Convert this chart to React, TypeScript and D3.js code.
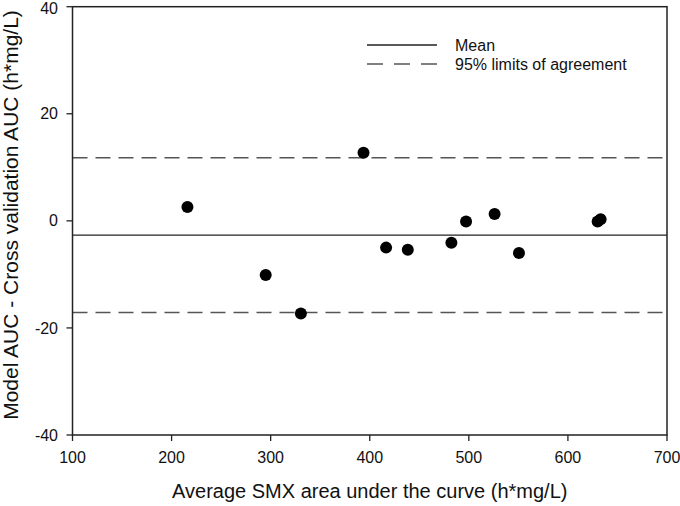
import React from "react";
import * as d3 from "d3";

const xValues = [216, 295, 330.5, 393.7, 416.5, 438.4, 482.4, 497.2, 526, 550.6, 630, 633];
const yValues = [2.6, -10.1, -17.3, 12.7, -5.0, -5.4, -4.1, -0.1, 1.3, -6.0, -0.1, 0.3];
const meanValue = -2.65;
const upperLimit = 11.8;
const lowerLimit = -17.1;
const xTicks = [100, 200, 300, 400, 500, 600, 700];
const yTicks = [-40, -20, 0, 20, 40];
const legendLabels = ["Mean", "95% limits of agreement"];
const xLabel = "Average SMX area under the curve (h*mg/L)";
const yLabel = "Model AUC - Cross validation AUC (h*mg/L)";

const W = 680;
const H = 506;
const left = 72.5;
const right = 667;
const top = 6.7;
const bottom = 435;

export default function App() {
  const x = d3.scaleLinear().domain([100, 700]).range([left, right]);
  const y = d3.scaleLinear().domain([-40, 40]).range([bottom, top]);
  const font = "'Liberation Sans', Arial, sans-serif";
  const axisColor = "#222";
  const dash = "15 8";
  return (
    <svg
      width={W}
      height={H}
      style={{ position: "absolute", left: 0, top: 0, background: "#fff" }}
      fontFamily={font}
    >
      {/* reference lines */}
      <line x1={left} x2={right} y1={y(upperLimit)} y2={y(upperLimit)} stroke="#555" strokeWidth={1.5} strokeDasharray={dash} />
      <line x1={left} x2={right} y1={y(lowerLimit)} y2={y(lowerLimit)} stroke="#555" strokeWidth={1.5} strokeDasharray={dash} />
      <line x1={left} x2={right} y1={y(meanValue)} y2={y(meanValue)} stroke="#222" strokeWidth={1.3} />

      {/* points */}
      {xValues.map((v, i) => (
        <circle key={i} cx={x(v)} cy={y(yValues[i])} r={6} fill="#000" />
      ))}

      {/* frame */}
      <rect x={left} y={top} width={right - left} height={bottom - top} fill="none" stroke={axisColor} strokeWidth={1.5} />

      {/* x ticks */}
      {xTicks.map((t) => (
        <g key={t}>
          <line x1={x(t)} x2={x(t)} y1={bottom} y2={bottom + 6} stroke={axisColor} strokeWidth={1.3} />
          <text x={x(t)} y={463} fontSize={16} textAnchor="middle" fill="#111">
            {t}
          </text>
        </g>
      ))}
      {/* y ticks */}
      {yTicks.map((t) => (
        <g key={t}>
          <line x1={left - 6} x2={left} y1={y(t)} y2={y(t)} stroke={axisColor} strokeWidth={1.3} />
          <text x={58} y={Math.max(y(t), 8)} dy="0.35em" fontSize={16} textAnchor="end" fill="#111">
            {t}
          </text>
        </g>
      ))}

      {/* axis labels */}
      <text x={(left + right) / 2} y={498} fontSize={20} textAnchor="middle" fill="#111">
        {xLabel}
      </text>
      <text
        transform={`translate(18, 215) rotate(-90)`}
        fontSize={21}
        textAnchor="middle"
        fill="#111"
      >
        {yLabel}
      </text>

      {/* legend */}
      <line x1={367} x2={437} y1={45} y2={45} stroke="#222" strokeWidth={1.3} />
      <line x1={367} x2={437} y1={64} y2={64} stroke="#555" strokeWidth={1.5} strokeDasharray="16 11" />
      <text x={455} y={51} fontSize={16} fill="#111">{legendLabels[0]}</text>
      <text x={455} y={70} fontSize={16} fill="#111">{legendLabels[1]}</text>
    </svg>
  );
}
